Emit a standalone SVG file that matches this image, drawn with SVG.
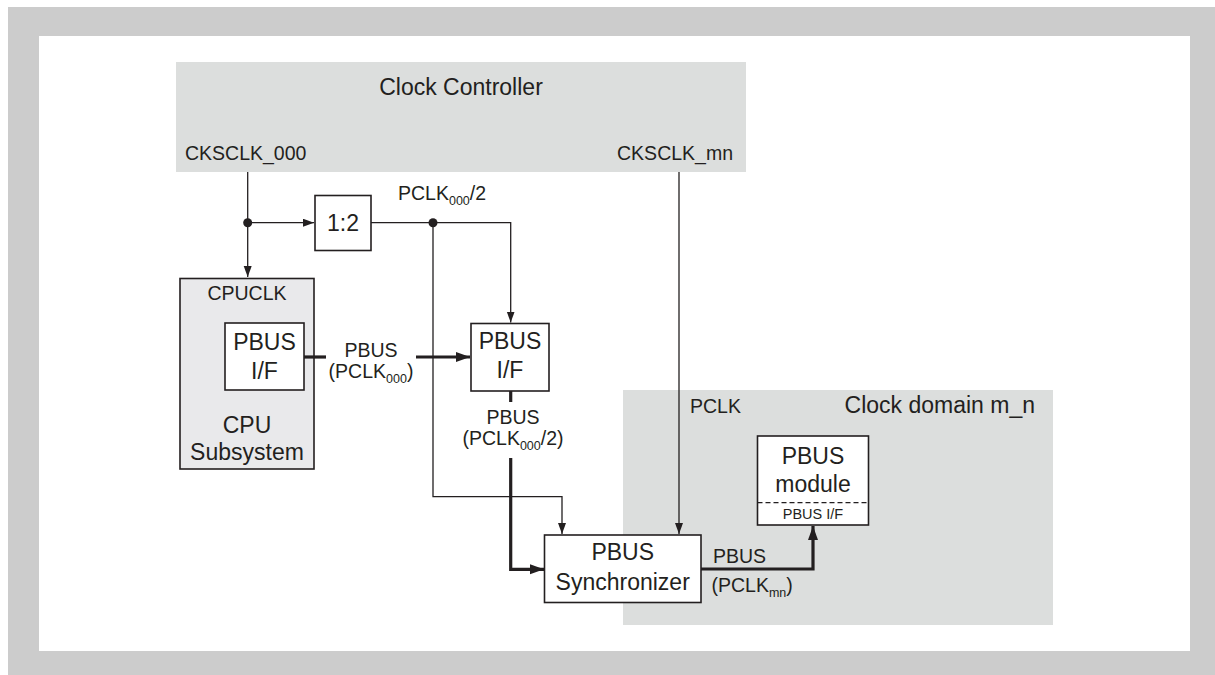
<svg xmlns="http://www.w3.org/2000/svg" width="1215" height="675" viewBox="0 0 1215 675">
<style>
text{font-family:"Liberation Sans",Arial,Helvetica,sans-serif;fill:#231f20}
.big{font-size:23px}
.lab{font-size:19.5px}
.sm{font-size:14.5px}
.sub{font-size:12.5px}
.mid{text-anchor:middle}
.end{text-anchor:end}
.box{fill:#ffffff;stroke:#231f20;stroke-width:1.6}
.thin{fill:none;stroke:#231f20;stroke-width:1.3}
.thick{fill:none;stroke:#231f20;stroke-width:3.2}
.dot{fill:#231f20}
</style>
<defs>
<marker id="a" markerUnits="userSpaceOnUse" markerWidth="12" markerHeight="9" refX="11" refY="4" orient="auto">
<path d="M0,0 L11,4 L0,8 z" fill="#231f20"/>
</marker>
<marker id="b" markerUnits="userSpaceOnUse" markerWidth="15" markerHeight="11" refX="14" refY="5" orient="auto">
<path d="M0,0 L14,5 L0,10 z" fill="#231f20"/>
</marker>
</defs>
<rect x="8" y="7" width="1207" height="668" fill="#cccccc"/>
<rect x="39" y="36" width="1151" height="615" fill="#ffffff"/>

<g id="clock-controller">
<rect x="176" y="62" width="570" height="110" fill="#dcdedd"/>
<text class="big mid" x="461" y="95">Clock Controller</text>
<text class="lab" x="185" y="160">CKSCLK_000</text>
<text class="lab end" x="733" y="160">CKSCLK_mn</text>
</g>

<g id="clock-domain">
<rect x="623" y="390" width="430" height="235" fill="#dcdedd"/>
<text class="lab" x="690" y="413">PCLK</text>
<text class="big end" x="1035" y="413">Clock domain m_n</text>
</g>

<g id="cpu-subsystem">
<rect x="180" y="278.5" width="134" height="190.5" fill="#e9e9eb" stroke="#231f20" stroke-width="1.6"/>
<text class="lab mid" x="247" y="300">CPUCLK</text>
<text class="big mid" x="247" y="433">CPU</text>
<text class="big mid" x="247" y="460">Subsystem</text>
</g>

<g id="cpu-pbus-if">
<rect class="box" x="225" y="323" width="79" height="67"/>
<text class="big mid" x="264.5" y="350">PBUS</text>
<text class="big mid" x="264.5" y="379">I/F</text>
</g>

<g id="divider">
<rect class="box" x="315" y="195.5" width="56" height="55"/>
<text class="big mid" x="343" y="231">1:2</text>
</g>

<g id="pbus-if">
<rect class="box" x="471" y="323.5" width="78" height="67.5"/>
<text class="big mid" x="510" y="348.5">PBUS</text>
<text class="big mid" x="510" y="377.5">I/F</text>
</g>

<g id="synchronizer">
<rect class="box" x="544.5" y="535" width="156.5" height="67.5"/>
<text class="big mid" x="622.7" y="559.5">PBUS</text>
<text class="big mid" x="622.7" y="590">Synchronizer</text>
</g>

<g id="pbus-module">
<rect class="box" x="757.5" y="436" width="111" height="89"/>
<line x1="757.5" y1="502.7" x2="868.5" y2="502.7" stroke="#231f20" stroke-width="1.3" stroke-dasharray="5,3"/>
<text class="big mid" x="813" y="463.5">PBUS</text>
<text class="big mid" x="813" y="492">module</text>
<text class="sm mid" x="813" y="518.5">PBUS I/F</text>
</g>

<g id="connectors">
<path class="thin" d="M247.7,172 V277" marker-end="url(#a)"/>
<path class="thin" d="M247.7,222.7 H314" marker-end="url(#a)"/>
<path class="thin" d="M371,222.7 H510.7 V322.5" marker-end="url(#a)"/>
<path class="thin" d="M433,222.7 V496.7 H562 V534" marker-end="url(#a)"/>
<path class="thin" d="M679,172 V534" marker-end="url(#a)"/>
<circle class="dot" cx="247.7" cy="222.7" r="4.5"/>
<circle class="dot" cx="433" cy="222.7" r="4.5"/>
<path class="thick" d="M304,357 H326"/>
<path class="thick" d="M416,357 H470" marker-end="url(#b)"/>
<path class="thick" d="M510.7,391 V402"/>
<path class="thick" d="M510.7,458 V569.3 H544" marker-end="url(#b)"/>
<path class="thick" d="M701,569 H813 V526" marker-end="url(#b)"/>
<text class="lab" x="398" y="200">PCLK<tspan class="sub" dy="5">000</tspan><tspan dy="-5">/2</tspan></text>
<text class="lab mid" x="371" y="357">PBUS</text>
<text class="lab mid" x="371" y="378">(PCLK<tspan class="sub" dy="5">000</tspan><tspan dy="-5">)</tspan></text>
<text class="lab mid" x="513" y="424">PBUS</text>
<text class="lab mid" x="513" y="445">(PCLK<tspan class="sub" dy="5">000</tspan><tspan dy="-5">/2)</tspan></text>
<text class="lab" x="713" y="563">PBUS</text>
<text class="lab" x="711.5" y="592">(PCLK<tspan class="sub" dy="5">mn</tspan><tspan dy="-5">)</tspan></text>
</g>
</svg>
